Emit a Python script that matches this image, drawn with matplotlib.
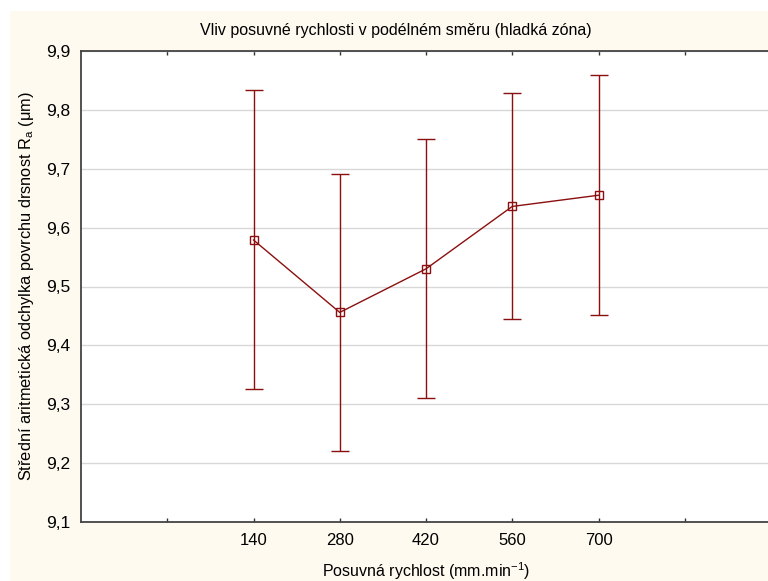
import matplotlib.pyplot as plt
from matplotlib.patches import Rectangle

plt.rcParams['font.family'] = ['Liberation Sans', 'DejaVu Sans']
plt.rcParams['mathtext.fontset'] = 'custom'
plt.rcParams['mathtext.rm'] = 'Liberation Sans'
plt.rcParams['mathtext.it'] = 'Liberation Sans'
plt.rcParams['mathtext.default'] = 'regular'

# data
feed = ['140', '280', '420', '560', '700']
means = [9.579, 9.456, 9.530, 9.636, 9.655]
lower = [9.326, 9.221, 9.310, 9.444, 9.452]
upper = [9.833, 9.691, 9.750, 9.828, 9.860]

W, H = 768, 581
fig = plt.figure(figsize=(W / 100, H / 100), dpi=100, facecolor='white')

# cream panel behind the chart
fig.patches.append(Rectangle((10 / W, 0), 1, 1 - 11 / H, transform=fig.transFigure,
                             facecolor='#fefaef', edgecolor='none', zorder=-10))

# axes in pixel coordinates (plot is clipped at the right edge like the original)
left, right, top, bottom = 81, 771, 51, 522
ax = fig.add_axes([left / W, 1 - bottom / H, (right - left) / W, (bottom - top) / H])
ax.set_facecolor('white')

x = list(range(1, len(feed) + 1))
yerr = [[m - lo for m, lo in zip(means, lower)], [up - m for m, up in zip(means, upper)]]
color = '#8b0f0f'
ax.errorbar(x, means, yerr=yerr, color=color, lw=1, elinewidth=1, capsize=6.5,
            capthick=1, marker='s', markersize=6, markerfacecolor='none',
            markeredgecolor=color, markeredgewidth=1, zorder=3)

ax.set_xlim(-1, 7)
ax.set_ylim(9.1, 9.9)
ax.set_xticks(range(0, 7))
ax.set_xticklabels([''] + feed + [''])
yt = [9.1 + 0.1 * i for i in range(9)]
ax.set_yticks(yt)
ax.set_yticklabels([('%.1f' % v).replace('.', ',') for v in yt])

ax.grid(axis='y', color='#d8d8d8', lw=1)
ax.set_axisbelow(True)
ax.tick_params(axis='x', direction='in', length=3, top=True, width=1,
               color='#333333', labelsize=12, pad=8)
ax.tick_params(axis='y', length=0, labelsize=12.5, pad=8)
for s in ['left', 'bottom', 'top']:
    ax.spines[s].set_color('#444444')
    ax.spines[s].set_linewidth(1.3)
ax.spines['right'].set_visible(False)

fig.text(396 / W, 1 - 31 / H, 'Vliv posuvné rychlosti v podélném směru (hladká zóna)',
         ha='center', va='center', fontsize=11.5)
fig.text(426 / W, 1 - 571 / H, 'Posuvná rychlost (mm.min$^{-1}$)',
         ha='center', va='center', fontsize=11.5)
fig.text(27 / W, 1 - 286 / H,
         'Střední aritmetická odchylka povrchu drsnost R$_{a}$ (μm)',
         ha='center', va='center', rotation=90, fontsize=11.8)

fig.savefig('out.png', dpi=100, facecolor=fig.get_facecolor())
